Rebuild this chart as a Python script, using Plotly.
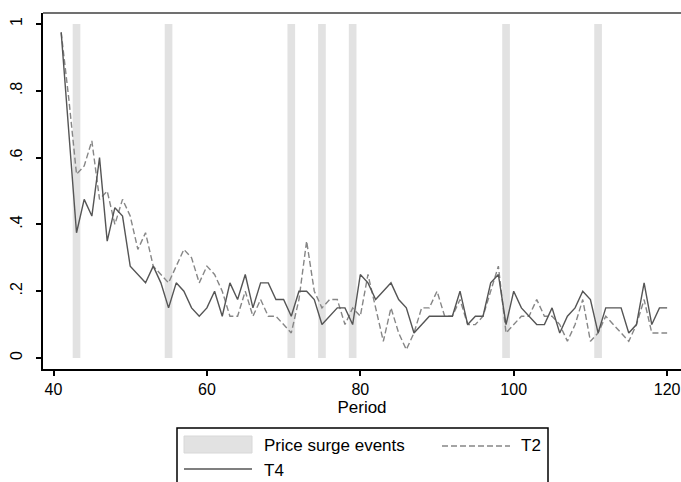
import plotly.graph_objects as go

# ---- data ----
periods = list(range(41, 121))

t4 = [0.975, 0.675, 0.375, 0.475, 0.425, 0.6, 0.35, 0.45, 0.425, 0.275,
      0.25, 0.225, 0.275, 0.225, 0.15, 0.225, 0.2, 0.15, 0.125, 0.15,
      0.2, 0.125, 0.225, 0.175, 0.25, 0.15, 0.225, 0.225, 0.175, 0.175,
      0.125, 0.2, 0.2, 0.175, 0.1, 0.125, 0.15, 0.15, 0.1, 0.25,
      0.225, 0.175, 0.2, 0.225, 0.175, 0.15, 0.075, 0.1, 0.125, 0.125,
      0.125, 0.125, 0.2, 0.1, 0.125, 0.125, 0.225, 0.25, 0.1, 0.2,
      0.15, 0.125, 0.1, 0.1, 0.15, 0.075, 0.125, 0.15, 0.2, 0.175,
      0.075, 0.15, 0.15, 0.15, 0.075, 0.1, 0.225, 0.1, 0.15, 0.15]

t2 = [0.975, 0.775, 0.55, 0.575, 0.65, 0.475, 0.5, 0.4, 0.475, 0.425,
      0.325, 0.375, 0.275, 0.25, 0.225, 0.275, 0.325, 0.3, 0.225, 0.275,
      0.25, 0.2, 0.125, 0.125, 0.2, 0.125, 0.175, 0.125, 0.125, 0.1,
      0.075, 0.175, 0.35, 0.2, 0.15, 0.175, 0.175, 0.1, 0.15, 0.125,
      0.25, 0.15, 0.05, 0.15, 0.075, 0.025, 0.075, 0.15, 0.15, 0.2,
      0.125, 0.125, 0.175, 0.1, 0.1, 0.125, 0.2, 0.275, 0.075, 0.1,
      0.125, 0.125, 0.175, 0.125, 0.125, 0.1, 0.05, 0.1, 0.175, 0.05,
      0.075, 0.125, 0.1, 0.075, 0.05, 0.1, 0.175, 0.075, 0.075, 0.075]

surge_events = [43, 55, 71, 75, 79, 99, 111]
surge_height = [1] * len(surge_events)

x_ticks = [40, 60, 80, 100, 120]
y_ticks = [0, 0.2, 0.4, 0.6, 0.8, 1]
y_ticktext = ["0", ".2", ".4", ".6", ".8", "1"]

legend_labels = ["Price surge events", "T2", "T4"]

# ---- figure ----
W, H = 681, 482
ML, MR, MT, MB = 43, 0, 13, 113
PW, PH = W - ML - MR, H - MT - MB

def px(x):
    return (x - ML) / PW

def py(y):
    return (H - MB - y) / PH

FONT = "Liberation Sans, Arial, sans-serif"
BAR_COL = "#e2e2e2"
T4_COL = "#555555"
T2_COL = "#868686"

fig = go.Figure()
fig.add_trace(go.Bar(x=surge_events, y=surge_height, width=1,
                     marker=dict(color=BAR_COL, line=dict(width=0)),
                     name=legend_labels[0], showlegend=False, hoverinfo="skip"))
fig.add_trace(go.Scatter(x=periods, y=t2, mode="lines", name=legend_labels[1],
                         line=dict(color=T2_COL, width=1.4, dash="6px,3px"),
                         showlegend=False))
fig.add_trace(go.Scatter(x=periods, y=t4, mode="lines", name=legend_labels[2],
                         line=dict(color=T4_COL, width=1.4),
                         showlegend=False))

axis_common = dict(showgrid=False, zeroline=False, showline=True,
                   linecolor="black", linewidth=1.5, ticks="outside",
                   ticklen=5, tickwidth=1.5, tickcolor="black",
                   tickfont=dict(family=FONT, size=16, color="black"))

fig.update_xaxes(range=[38.63, 121.81], tickvals=x_ticks,
                 title=dict(text="Period", font=dict(family=FONT, size=17, color="black"),
                            standoff=2),
                 **axis_common)
fig.update_yaxes(range=[-0.033, 1.033], tickvals=y_ticks, ticktext=y_ticktext,
                 tickangle=-90, ticklabelstandoff=8, **axis_common)

shapes = [
    # top border of plot region
    dict(type="line", xref="paper", yref="paper", x0=0, x1=1, y0=1, y1=1,
         line=dict(color="#707070", width=2)),
    # legend box
    dict(type="rect", xref="paper", yref="paper", x0=px(177), x1=px(548),
         y0=py(428), y1=py(500), line=dict(color="black", width=1.5),
         fillcolor="white"),
    # bar swatch
    dict(type="rect", xref="paper", yref="paper", x0=px(184), x1=px(252),
         y0=py(436), y1=py(453), line=dict(color="#d8d8d8", width=1),
         fillcolor=BAR_COL),
    # T2 dashed sample
    dict(type="line", xref="paper", yref="paper", x0=px(442), x1=px(510),
         y0=py(446), y1=py(446), line=dict(color=T2_COL, width=1.4, dash="6px,3px")),
    # T4 solid sample
    dict(type="line", xref="paper", yref="paper", x0=px(184), x1=px(252),
         y0=py(469), y1=py(469), line=dict(color=T4_COL, width=1.4)),
]

annotations = [
    dict(text=legend_labels[0], x=px(262), y=py(446)),
    dict(text=legend_labels[1], x=px(519), y=py(446)),
    dict(text=legend_labels[2], x=px(262), y=py(470)),
]
for a in annotations:
    a.update(xref="paper", yref="paper", xanchor="left", yanchor="middle",
             showarrow=False, font=dict(family=FONT, size=17, color="black"))

fig.update_layout(width=W, height=H,
                  margin=dict(l=ML, r=MR, t=MT, b=MB, pad=0),
                  paper_bgcolor="white", plot_bgcolor="white",
                  shapes=shapes, annotations=annotations, showlegend=False,
                  barmode="overlay")

fig.write_html("out.html")
